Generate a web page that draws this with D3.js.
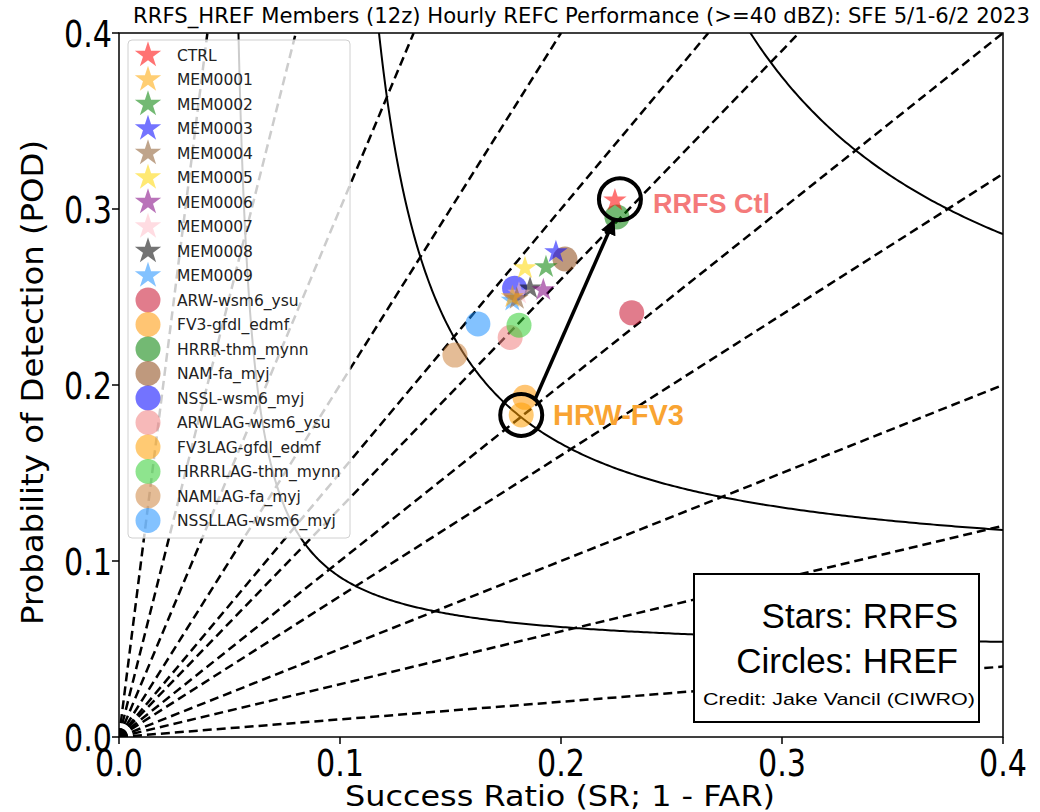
<!DOCTYPE html>
<html>
<head>
<meta charset="utf-8">
<script src="https://cdn.jsdelivr.net/npm/d3@7"></script>
<style>
body { margin: 0; background: #fff; }
svg { display: block; font-family: "DejaVu Sans", sans-serif; }
</style>
</head>
<body>
<svg id="chart" width="1040" height="812"></svg>
<script>
// RRFS members (stars)
var starNames = ["CTRL", "MEM0001", "MEM0002", "MEM0003", "MEM0004", "MEM0005", "MEM0006", "MEM0007", "MEM0008", "MEM0009"];
var starSR = [0.2244, 0.178, 0.1932, 0.1977, 0.180, 0.1837, 0.192, 0.181, 0.186, 0.178];
var starPOD = [0.305, 0.250, 0.267, 0.2756, 0.249, 0.2665, 0.254, 0.252, 0.255, 0.248];
var starColors = ["#ff0000", "#ffa500", "#008000", "#0000ff", "#8b5a2b", "#ffd700", "#800080", "#ffc0cb", "#000000", "#1e90ff"];

// HREF members (circles)
var circNames = ["ARW-wsm6_ysu", "FV3-gfdl_edmf", "HRRR-thm_mynn", "NAM-fa_myj", "NSSL-wsm6_myj", "ARWLAG-wsm6_ysu", "FV3LAG-gfdl_edmf", "HRRRLAG-thm_mynn", "NAMLAG-fa_myj", "NSSLLAG-wsm6_myj"];
var circSR = [0.232, 0.1837, 0.2253, 0.2018, 0.179, 0.177, 0.182, 0.181, 0.152, 0.1624];
var circPOD = [0.241, 0.193, 0.2955, 0.2716, 0.255, 0.227, 0.183, 0.234, 0.217, 0.2347];
var circColors = ["#c8102e", "#ff9500", "#008000", "#8b4513", "#0000ff", "#f08080", "#ff9f00", "#32cd32", "#cd853f", "#1e90ff"];

var biasLevels = [0.1, 0.3, 0.5, 0.8, 1, 1.3, 1.5, 2, 3, 5, 10];
var csiLevels = [0.05, 0.1, 0.2];
var ticks = [0.0, 0.1, 0.2, 0.3, 0.4];

var svg = d3.select("#chart");
var pLeft = 119, pRight = 1003, pTop = 33, pBottom = 737;
var x = d3.scaleLinear().domain([0, 0.4]).range([pLeft, pRight]);
var y = d3.scaleLinear().domain([0, 0.4]).range([pBottom, pTop]);

var defs = svg.append("defs");
defs.append("clipPath").attr("id", "plot")
	.append("rect").attr("x", pLeft).attr("y", pTop).attr("width", pRight - pLeft).attr("height", pBottom - pTop);
defs.append("marker")
	.attr("id", "head").attr("viewBox", "0 0 10 10").attr("refX", 9).attr("refY", 5)
	.attr("markerWidth", 4.5).attr("markerHeight", 4.5).attr("orient", "auto")
	.append("path").attr("d", "M0,0 L10,5 L0,10 z").attr("fill", "black");

var plot = svg.append("g").attr("clip-path", "url(#plot)");

//bias lines
plot.selectAll(".bias")
	.data(biasLevels)
	.enter().append("line")
	.attr("class", "bias")
	.attr("x1", x(0)).attr("y1", y(0))
	.attr("x2", function(b){ return b >= 1 ? x(0.4 / b) : x(0.4); })
	.attr("y2", function(b){ return b >= 1 ? y(0.4) : y(0.4 * b); })
	.attr("stroke", "black")
	.attr("stroke-width", 2.5)
	.attr("stroke-dasharray", "9,5");

//csi contours
var csiLine = d3.line().x(function(d){ return x(d[0]); }).y(function(d){ return y(d[1]); });
var csiPoints = function(c){
	var pts = [];
	var s0 = c / (1 + c);
	for (var i = 0; i <= 400; i++){
		var sr = s0 + (0.4 - s0) * Math.pow(i / 400, 2.2) + 1e-7;
		var pod = 1 / (1 / c + 1 - 1 / sr);
		if (pod > 0.6) pod = 0.6;
		pts.push([sr, pod]);
	}
	return pts;
};
plot.selectAll(".csi")
	.data(csiLevels)
	.enter().append("path")
	.attr("class", "csi")
	.attr("d", function(c){ return csiLine(csiPoints(c)); })
	.attr("fill", "none")
	.attr("stroke", "black")
	.attr("stroke-width", 2);

//legend box (drawn over the lines, semi transparent)
svg.append("rect")
	.attr("x", 128).attr("y", 40).attr("width", 222).attr("height", 498)
	.attr("rx", 4)
	.attr("fill", "white").attr("fill-opacity", 0.8)
	.attr("stroke", "#d0d0d0").attr("stroke-width", 1);

var starSym = d3.symbol().type(d3.symbolStar);

//circles
svg.selectAll(".href")
	.data(circNames)
	.enter().append("circle")
	.attr("class", "href")
	.attr("cx", function(d, i){ return x(circSR[i]); })
	.attr("cy", function(d, i){ return y(circPOD[i]); })
	.attr("r", 12.5)
	.attr("fill", function(d, i){ return circColors[i]; })
	.attr("opacity", 0.55);

//stars, CTRL on top
var starOrder = d3.range(starNames.length).reverse();
svg.selectAll(".rrfs")
	.data(starOrder)
	.enter().append("path")
	.attr("class", "rrfs")
	.attr("d", starSym.size(170))
	.attr("transform", function(i){ return "translate(" + x(starSR[i]) + "," + y(starPOD[i]) + ")"; })
	.attr("fill", function(i){ return starColors[i]; })
	.attr("opacity", 0.55);

//legend entries
var legendY = function(i){ return 55 + i * 24.5; };
var leg = svg.append("g");
starNames.forEach(function(n, i){
	leg.append("path")
		.attr("d", starSym.size(215))
		.attr("transform", "translate(148," + legendY(i) + ")")
		.attr("fill", starColors[i]).attr("opacity", 0.55);
	leg.append("text").text(n)
		.attr("x", 177).attr("y", legendY(i) + 5.5)
		.attr("font-size", 15.5).attr("fill", "#222");
});
circNames.forEach(function(n, i){
	var k = i + starNames.length;
	leg.append("circle")
		.attr("cx", 148).attr("cy", legendY(k)).attr("r", 12.5)
		.attr("fill", circColors[i]).attr("opacity", 0.55);
	leg.append("text").text(n)
		.attr("x", 177).attr("y", legendY(k) + 5.5)
		.attr("font-size", 15.5).attr("fill", "#222");
});

//frame and ticks
svg.append("rect")
	.attr("x", pLeft).attr("y", pTop).attr("width", pRight - pLeft).attr("height", pBottom - pTop)
	.attr("fill", "none").attr("stroke", "black").attr("stroke-width", 1.5);

svg.selectAll(".xt")
	.data(ticks)
	.enter().append("line")
	.attr("class", "xt")
	.attr("x1", function(d){ return x(d); }).attr("x2", function(d){ return x(d); })
	.attr("y1", pBottom).attr("y2", pBottom + 7)
	.attr("stroke", "black").attr("stroke-width", 1.5);
svg.selectAll(".yt")
	.data(ticks)
	.enter().append("line")
	.attr("class", "yt")
	.attr("y1", function(d){ return y(d); }).attr("y2", function(d){ return y(d); })
	.attr("x1", pLeft - 7).attr("x2", pLeft)
	.attr("stroke", "black").attr("stroke-width", 1.5);

svg.selectAll(".xl")
	.data(ticks)
	.enter().append("text")
	.attr("class", "xl")
	.text(function(d){ return d.toFixed(1); })
	.attr("x", function(d){ return x(d); })
	.attr("y", 776)
	.attr("text-anchor", "middle")
	.attr("font-size", 38)
	.attr("textLength", 48).attr("lengthAdjust", "spacingAndGlyphs");
svg.selectAll(".yl")
	.data(ticks)
	.enter().append("text")
	.attr("class", "yl")
	.text(function(d){ return d.toFixed(1); })
	.attr("x", 112)
	.attr("y", function(d){ return y(d) + 14; })
	.attr("text-anchor", "end")
	.attr("font-size", 38)
	.attr("textLength", 48).attr("lengthAdjust", "spacingAndGlyphs");

svg.append("text")
	.text("Success Ratio (SR; 1 - FAR)")
	.attr("x", 345).attr("y", 806)
	.attr("font-size", 29)
	.attr("textLength", 430).attr("lengthAdjust", "spacingAndGlyphs");
svg.append("text")
	.text("Probability of Detection (POD)")
	.attr("transform", "translate(43,625) rotate(-90)")
	.attr("font-size", 31)
	.attr("textLength", 485).attr("lengthAdjust", "spacingAndGlyphs");
svg.append("text")
	.text("RRFS_HREF Members (12z) Hourly REFC Performance (>=40 dBZ): SFE 5/1-6/2 2023")
	.attr("x", 133).attr("y", 23)
	.attr("font-size", 21)
	.attr("textLength", 897).attr("lengthAdjust", "spacingAndGlyphs");

//annotations
var ann = svg.append("g").attr("font-family", "'Liberation Sans', Arial, sans-serif");
ann.append("circle").attr("cx", x(starSR[0]) + 5).attr("cy", y(starPOD[0]) - 1).attr("r", 21)
	.attr("fill", "none").attr("stroke", "black").attr("stroke-width", 4);
ann.append("circle").attr("cx", x(circSR[6])).attr("cy", y(circPOD[6])).attr("r", 21)
	.attr("fill", "none").attr("stroke", "black").attr("stroke-width", 4);
ann.append("line")
	.attr("x1", x(circSR[6]) + 14).attr("y1", y(circPOD[6]) - 16)
	.attr("x2", x(starSR[0]) - 1).attr("y2", y(starPOD[0]) + 20)
	.attr("stroke", "black").attr("stroke-width", 3.5)
	.attr("marker-end", "url(#head)");
ann.append("text").text("RRFS Ctl")
	.attr("x", 653).attr("y", 213)
	.attr("font-size", 27).attr("font-weight", "bold").attr("fill", "#f47a7a");
ann.append("text").text("HRW-FV3")
	.attr("x", 553).attr("y", 425)
	.attr("font-size", 29).attr("font-weight", "bold").attr("fill", "#f9a432");

ann.append("rect")
	.attr("x", 694).attr("y", 574).attr("width", 285).attr("height", 148)
	.attr("fill", "white").attr("stroke", "black").attr("stroke-width", 2);
ann.append("text").text("Stars: RRFS")
	.attr("x", 958).attr("y", 628).attr("text-anchor", "end").attr("font-size", 35);
ann.append("text").text("Circles: HREF")
	.attr("x", 958).attr("y", 673).attr("text-anchor", "end").attr("font-size", 35);
ann.append("text").text("Credit: Jake Vancil (CIWRO)")
	.attr("x", 703).attr("y", 705).attr("font-size", 17)
	.attr("textLength", 272).attr("lengthAdjust", "spacingAndGlyphs");
</script>
</body>
</html>
